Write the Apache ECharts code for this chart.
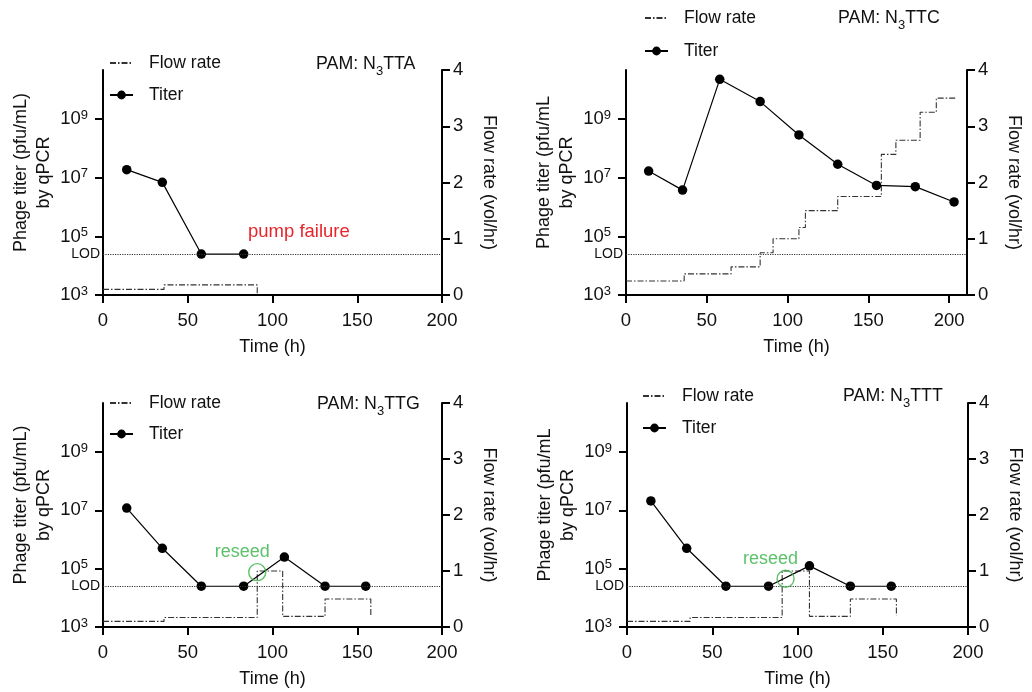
<!DOCTYPE html>
<html><head><meta charset="utf-8">
<script src="https://cdn.jsdelivr.net/npm/echarts@6/dist/echarts.min.js"></script>
<style>html,body{margin:0;padding:0;background:#fff}#c{width:1032px;height:692px}</style>
</head><body><div id="c"></div>
<script>
// ---------- data ----------
const xTicks = [0, 50, 100, 150, 200];
const titerTicks = [1e3, 1e5, 1e7, 1e9];
const flowTicks = [0, 1, 2, 3, 4];
const LOD = 2.5e4;
const pamLabels = ['TTA', 'TTC', 'TTG', 'TTT'];

// Panel A: N3TTA
const timeA = [14, 35, 58, 83];
const titerA = [1.9e7, 7e6, LOD, LOD];
const flowTimeA = [0, 36, 91];
const flowA = [0.1, 0.18, 0];

// Panel C: N3TTC
const timeC = [14, 35, 58, 83, 107, 131, 155, 179, 203];
const titerC = [1.7e7, 3.8e6, 2.3e10, 4e9, 2.9e8, 2.9e7, 5.5e6, 5e6, 1.5e6];
const flowTimeC = [0, 36, 65, 83, 91, 107, 111, 131, 158, 167, 182, 192, 204];
const flowC = [0.25, 0.375, 0.5, 0.75, 1.0, 1.2, 1.5, 1.75, 2.5, 2.75, 3.25, 3.5, 3.5];

// Panel G: N3TTG
const timeG = [14, 35, 58, 83, 107, 131, 155];
const titerG = [1.2e7, 5e5, LOD, LOD, 2.5e5, LOD, LOD];
const flowTimeG = [0, 36, 91, 106, 131, 158];
const flowG = [0.1, 0.17, 1.0, 0.19, 0.5, 0.2];

// Panel T: N3TTT
const timeT = [14, 35, 58, 83, 107, 131, 155];
const titerT = [2.1e7, 5e5, LOD, LOD, 1.25e5, LOD, LOD];
const flowTimeT = [0, 37, 91, 107, 131, 158];
const flowT = [0.1, 0.17, 1.0, 0.19, 0.5, 0.2];

// annotations
const reseedG = [91, 7.6e4];
const reseedT = [93, 4.5e4];
const pumpFailure = 'pump failure';

// ---------- layout ----------
const FONT = '"Liberation Sans", Arial, sans-serif';
const TXT = '#111';
const panels = [
  {time: timeA, titer: titerA, ft: flowTimeA, fl: flowA, xmax: 200, grid: {left: 103, right: 590, top: 70, bottom: 397}, yname: 'Phage titer (pfu/mL)\nby qPCR',
   legend: {left: 109, top: 54, gap: 14}, pam: [316, 65]},
  {time: timeC, titer: titerC, ft: flowTimeC, fl: flowC, xmax: 211, grid: {left: 626, right: 65, top: 70, bottom: 397}, yname: 'Phage titer (pfu/mL\nby qPCR',
   legend: {left: 644, top: 9, gap: 15}, pam: [838, 19]},
  {time: timeG, titer: titerG, ft: flowTimeG, fl: flowG, xmax: 200, grid: {left: 103, right: 590, top: 403, bottom: 65}, yname: 'Phage titer (pfu/mL)\nby qPCR',
   legend: {left: 109, top: 394, gap: 13}, pam: [317, 405]},
  {time: timeT, titer: titerT, ft: flowTimeT, fl: flowT, xmax: 200, grid: {left: 627, right: 64, top: 403, bottom: 65}, yname: 'Phage titer (pfu/mL\nby qPCR',
   legend: {left: 642, top: 387, gap: 14}, pam: [843, 397]}
];

const grid = [], xAxis = [], yAxis = [], series = [], legend = [], graphic = [];
const axisLineStyle = {color: '#000', width: 2};
panels.forEach((p, i) => {
  grid.push(Object.assign({containLabel: false, outerBoundsMode: 'none'}, p.grid));
  xAxis.push({
    type: 'value', gridIndex: i, min: 0, max: p.xmax, interval: 50,
    name: 'Time (h)', nameLocation: 'middle', nameGap: 43, nameMoveOverlap: false,
    nameTextStyle: {fontFamily: FONT, fontSize: 18, color: TXT},
    axisLine: {show: true, onZero: false, lineStyle: axisLineStyle},
    axisTick: {show: true, length: 8, lineStyle: {color: '#000', width: 2}, customValues: xTicks},
    axisLabel: {fontFamily: FONT, fontSize: 18.5, color: TXT, margin: 16, customValues: xTicks},
    splitLine: {show: false}
  });
  yAxis.push({
    type: 'log', logBase: 10, gridIndex: i, position: 'left', min: 1e3, max: Math.pow(10, 10.68),
    name: p.yname, nameLocation: 'middle', nameRotate: 90, nameGap: 47, nameMoveOverlap: false,
    nameTextStyle: {fontFamily: FONT, fontSize: 18, lineHeight: 23, color: TXT, padding: [0, 0, 0, 20]},
    axisLine: {show: true, onZero: false, lineStyle: axisLineStyle},
    axisTick: {show: true, length: 8, lineStyle: {color: '#000', width: 2}, customValues: titerTicks},
    axisLabel: {
      margin: 15, customValues: titerTicks,
      formatter: v => '{b|10}{s|' + Math.round(Math.log10(v)) + '}',
      rich: {
        b: {fontFamily: FONT, fontSize: 18.5, lineHeight: 18, color: TXT},
        s: {fontFamily: FONT, fontSize: 13, lineHeight: 12, color: TXT, padding: [0, 0, 8, 0]}
      }
    },
    splitLine: {show: false}, minorTick: {show: false}
  });
  yAxis.push({
    type: 'value', gridIndex: i, position: 'right', min: 0, max: 4, interval: 1,
    name: 'Flow rate (vol/hr)', nameLocation: 'middle', nameRotate: -90, nameGap: 38, nameMoveOverlap: false,
    nameTextStyle: {fontFamily: FONT, fontSize: 18, color: TXT},
    axisLine: {show: true, onZero: false, lineStyle: axisLineStyle},
    axisTick: {show: true, length: 8, lineStyle: {color: '#000', width: 2}, customValues: flowTicks},
    axisLabel: {fontFamily: FONT, fontSize: 18.5, color: TXT, margin: 11, customValues: flowTicks},
    splitLine: {show: false}
  });
  series.push({
    name: 'Flow rate', type: 'line', xAxisIndex: i, step: 'end',
    yAxisIndex: 2 * i + 1, showSymbol: false, symbol: 'none', z: 2,
    data: p.ft.map((t, k) => [t, p.fl[k]]),
    lineStyle: {color: '#333', width: 1.1, type: [6, 2, 1.5, 2]},
    itemStyle: {color: '#333'}, animation: false
  });
  series.push({
    name: 'Titer', type: 'line', xAxisIndex: i, yAxisIndex: 2 * i, z: 4,
    symbol: 'circle', symbolSize: 9.5,
    data: p.time.map((t, k) => [t, p.titer[k]]),
    lineStyle: {color: '#000', width: 1.2}, itemStyle: {color: '#000'}, animation: false,
    markLine: {
      silent: true, symbol: ['none', 'none'], animation: false,
      lineStyle: {type: [1.2, 1.2], color: '#333', width: 1},
      label: {show: true, position: 'start', formatter: 'LOD', fontFamily: FONT, fontSize: 14, color: TXT, distance: 3},
      emphasis: {disabled: true},
      data: [{yAxis: LOD}]
    }
  });
  legend.push({
    left: p.legend.left, top: p.legend.top, orient: 'vertical', itemGap: p.legend.gap, padding: 0,
    itemWidth: 23, itemHeight: 11, selectedMode: false,
    textStyle: {fontFamily: FONT, fontSize: 17.5, color: TXT, padding: [0, 0, 0, 11]},
    data: [
      {name: 'Flow rate', itemStyle: {color: 'rgba(0,0,0,0)', borderColor: 'rgba(0,0,0,0)', borderWidth: 0, opacity: 0}},
      {name: 'Titer'}
    ]
  });
  graphic.push({
    type: 'text', left: p.pam[0], top: p.pam[1] - 14,
    style: {
      text: '{m|PAM: N}{s|3}{m|' + pamLabels[i] + '}',
      rich: {
        m: {fontFamily: FONT, fontSize: 17.8, lineHeight: 18, fill: TXT},
        s: {fontFamily: FONT, fontSize: 13, lineHeight: 13, fill: TXT, padding: [14, 0, 0, 0]}
      }
    }
  });
});

// reseed annotations
[[2, reseedG], [3, reseedT]].forEach(([i, pt]) => {
  series.push({
    name: 'reseed', type: 'scatter', xAxisIndex: i, yAxisIndex: 2 * i, z: 5,
    symbol: 'circle', symbolSize: 17, data: [pt], animation: false,
    itemStyle: {color: 'rgba(0,0,0,0)', borderColor: '#35b245', borderWidth: 1.4},
    label: {show: true, position: 'top', distance: 2, offset: [-15, 0], formatter: 'reseed',
            fontFamily: FONT, fontSize: 18, color: '#35b245'}
  });
});

graphic.push({
  type: 'text', left: 248, top: 222,
  style: {text: pumpFailure, fontFamily: FONT, fontSize: 18.5, fill: '#e8252b'}
});

const chart = echarts.init(document.getElementById('c'), null, {renderer: 'canvas'});
chart.setOption({
  backgroundColor: '#fff', animation: false,
  grid, xAxis, yAxis, series, legend, graphic
});
</script>
</body></html>
